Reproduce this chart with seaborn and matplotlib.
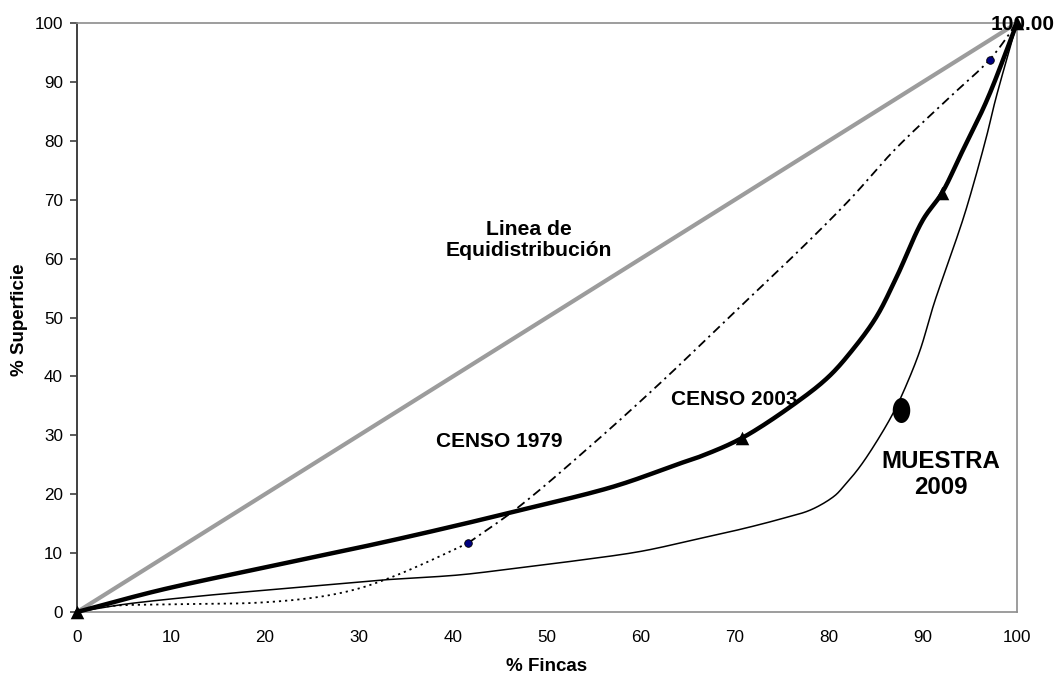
import numpy as np
import pandas as pd
import seaborn as sns
import matplotlib.pyplot as plt
from matplotlib.path import Path

# --- datos (curvas de Lorenz) ---
EQ_X = [0, 100]
EQ_Y = [0, 100]

# Censo 1979: tramo punteado y tramo raya-punto
C1979_X_A = [0, 3.5, 10, 19.5, 25.9, 30, 33.6, 37, 41.6]
C1979_Y_A = [0, 1.0, 1.3, 1.6, 2.6, 4.0, 6.0, 8.3, 11.7]
C1979_X_B = [41.6, 46.8, 55, 62.4, 70, 76.9, 82.2, 87, 92.5, 97.1, 100]
C1979_Y_B = [11.7, 17.6, 28.7, 39.4, 51, 61.5, 70.0, 78.5, 86.9, 93.8, 100]
C1979_MARK_X = [41.6, 97.1]
C1979_MARK_Y = [11.7, 93.8]

# Censo 2003
C2003_X = [0, 8.8, 19.5, 32.2, 40.7, 46.4, 57.1, 64.1, 66.3, 70.7, 76.9, 80,
           82.5, 85, 87.2, 90.0, 92.0, 94.0, 96.8, 100]
C2003_Y = [0, 3.7, 7.4, 11.7, 14.8, 17.0, 21.3, 25.2, 26.4, 29.5, 36.0, 40,
           44.5, 50, 56.9, 66.6, 71.1, 77.6, 86.9, 100]
C2003_MARK_X = [0, 70.7, 92.0, 100]
C2003_MARK_Y = [0, 29.5, 71.1, 100]

# Muestra 2009
M2009_X = [0, 5, 12.4, 20, 26.6, 32.2, 40.7, 47, 53.5, 60, 66.3, 71, 75.1, 78,
           80.5, 81.6, 83.3, 85.4, 87.0, 88.3, 89.7, 91.2, 92.9, 94.3, 95.4,
           96.8, 97.7, 100]
M2009_Y = [0, 1.3, 2.6, 3.7, 4.6, 5.4, 6.3, 7.5, 8.8, 10.3, 12.5, 14.2, 15.9, 17.3,
           19.6, 21.4, 24.7, 29.8, 34.3, 38.8, 44.5, 52.5, 60.3, 66.9, 72.8,
           81.0, 86.9, 100]
M2009_MARK_X = [87.7]
M2009_MARK_Y = [34.3]

X_TICKS = list(range(0, 101, 10))
Y_TICKS = list(range(0, 101, 10))


def suavizar(xs, ys, n=20):
    # linea suavizada (tipo Excel) por Catmull-Rom centripeto, solo para el trazo
    p = np.column_stack([xs, ys]).astype(float)
    p = np.vstack([2 * p[0] - p[1], p, 2 * p[-1] - p[-2]])
    out = [p[1]]
    for i in range(1, len(p) - 2):
        p0, p1, p2, p3 = p[i - 1], p[i], p[i + 1], p[i + 2]
        t0 = 0.0
        t1 = t0 + np.linalg.norm(p1 - p0) ** 0.5
        t2 = t1 + np.linalg.norm(p2 - p1) ** 0.5
        t3 = t2 + np.linalg.norm(p3 - p2) ** 0.5
        for t in np.linspace(t1, t2, n)[1:]:
            a1 = (t1 - t) / (t1 - t0) * p0 + (t - t0) / (t1 - t0) * p1
            a2 = (t2 - t) / (t2 - t1) * p1 + (t - t1) / (t2 - t1) * p2
            a3 = (t3 - t) / (t3 - t2) * p2 + (t - t2) / (t3 - t2) * p3
            b1 = (t2 - t) / (t2 - t0) * a1 + (t - t0) / (t2 - t0) * a2
            b2 = (t3 - t) / (t3 - t1) * a2 + (t - t1) / (t3 - t1) * a3
            out.append((t2 - t) / (t2 - t1) * b1 + (t - t1) / (t2 - t1) * b2)
    out = np.array(out)
    return out[:, 0], out[:, 1]


sns.set_theme(style="white")
plt.rcParams['font.family'] = ['Liberation Sans', 'DejaVu Sans']
plt.rcParams['text.color'] = 'black'
plt.rcParams['axes.labelcolor'] = 'black'

fig = plt.figure(figsize=(10.56, 6.78), dpi=100)
ax = fig.add_axes([77 / 1056, 1 - 612 / 678, 940 / 1056, 589 / 678])

# linea de equidistribucion
sns.lineplot(x=EQ_X, y=EQ_Y, ax=ax, color='#9c9c9c', linewidth=3, sort=False,
             clip_on=False, zorder=2)

# censo 1979
sx, sy = suavizar(C1979_X_A, C1979_Y_A)
sns.lineplot(x=sx, y=sy, ax=ax, color='black', linewidth=1.3,
             linestyle=(0, (1.2, 2.2)), sort=False, zorder=3)
sx, sy = suavizar(C1979_X_B, C1979_Y_B)
sns.lineplot(x=sx, y=sy, ax=ax, color='black', linewidth=1.3,
             linestyle=(0, (5, 2.5, 1.2, 2.5)), sort=False, clip_on=False, zorder=3)
sns.scatterplot(x=C1979_MARK_X, y=C1979_MARK_Y, ax=ax, color='#000080', s=30,
                edgecolor='black', linewidth=0.6, zorder=6, clip_on=False)

# muestra 2009
sx, sy = suavizar(M2009_X, M2009_Y)
sns.lineplot(x=sx, y=sy, ax=ax, color='black', linewidth=1.1, sort=False,
             clip_on=False, zorder=4)
t = np.linspace(0, 2 * np.pi, 60)
ellipse = Path(np.column_stack([0.7 * np.cos(t), np.sin(t)]), closed=True)
sns.scatterplot(x=M2009_MARK_X, y=M2009_MARK_Y, ax=ax, color='black', marker=ellipse,
                s=18 ** 2, linewidth=0, zorder=6)

# censo 2003
sx, sy = suavizar(C2003_X, C2003_Y)
sns.lineplot(x=sx, y=sy, ax=ax, color='black', linewidth=3.2, sort=False,
             clip_on=False, zorder=5)
sns.scatterplot(x=C2003_MARK_X, y=C2003_MARK_Y, ax=ax, color='black', marker='^',
                s=95, linewidth=0, zorder=7, clip_on=False)

# textos
ax.text(48.1, 63.2, 'Linea de\nEquidistribución', ha='center', va='center',
        fontsize=15.2, fontweight='bold', linespacing=1.15)
ax.text(44.9, 28.9, 'CENSO 1979', ha='center', va='center', fontsize=15,
        fontweight='bold')
ax.text(69.9, 36.0, 'CENSO 2003', ha='center', va='center', fontsize=15,
        fontweight='bold')
ax.text(91.9, 23.3, 'MUESTRA\n2009', ha='center', va='center', fontsize=17.3,
        fontweight='bold', linespacing=1.15)
ax.text(100.6, 98.8, '100.00', ha='center', va='baseline', fontsize=15,
        fontweight='bold', clip_on=False, zorder=8)

# ejes
ax.set_xlim(0, 100)
ax.set_ylim(0, 100)
ax.set_xticks(X_TICKS)
ax.set_yticks(Y_TICKS)
ax.tick_params(axis='x', length=0, pad=13, labelsize=12.3, labelcolor='black')
ax.tick_params(axis='y', left=True, length=5, width=1.2, color='#404040', pad=5,
               labelsize=12.3, labelcolor='black')
for side in ['top', 'right', 'bottom']:
    ax.spines[side].set_color('#8c8c8c')
    ax.spines[side].set_linewidth(1.2)
ax.spines['left'].set_color('#404040')
ax.spines['left'].set_linewidth(1.4)

ax.set_xlabel('% Fincas', fontsize=13.5, fontweight='bold', va='top')
ax.xaxis.set_label_coords(0.5, -0.078)
ax.set_ylabel('% Superficie', fontsize=13.5, fontweight='bold')
ax.yaxis.set_label_coords(-0.052, 0.496)

fig.savefig('out.png', dpi=100)
